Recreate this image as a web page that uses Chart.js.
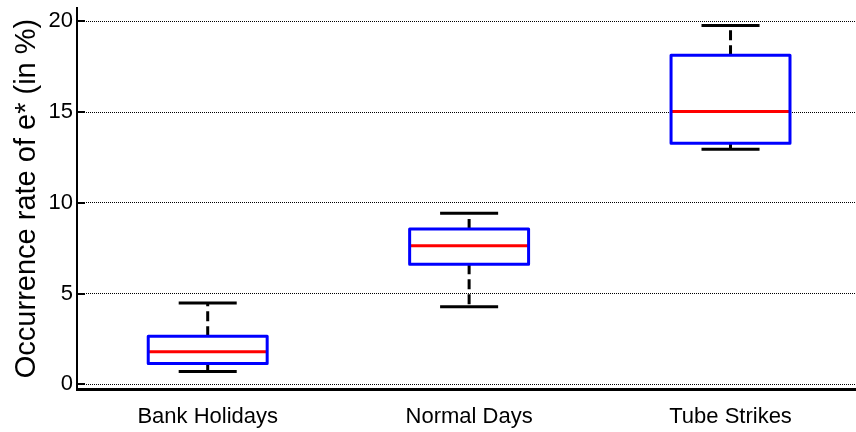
<!DOCTYPE html>
<html>
<head>
<meta charset="utf-8">
<script src="https://cdn.jsdelivr.net/npm/chart.js@4"></script>
<style>
  html, body { margin: 0; padding: 0; background: #fff; }
  #wrap { width: 856px; height: 432px; }
</style>
</head>
<body>
<div id="wrap"><canvas id="chart"></canvas></div>
<script>
// Five-number summaries per day type (occurrence rate, %)
const categories  = ['Bank Holidays', 'Normal Days', 'Tube Strikes'];
const whiskerLow  = [0.70, 4.28, 12.95];
const quartile1   = [1.14, 6.62, 13.29];
const medians     = [1.79, 7.64, 15.03];
const quartile3   = [2.65, 8.56, 18.14];
const whiskerHigh = [4.48, 9.43, 19.77];
const yTickValues = [0, 5, 10, 15, 20];

const FONT = '"Liberation Sans", Arial, Helvetica, sans-serif';
const BOX_HALF = 0.2275;   // half box width, in category units
const CAP_HALF = 0.111;    // half whisker-cap width, in category units

// Draws box, median, dashed whiskers and caps using the chart's scales
const boxPlot = {
  id: 'boxPlot',
  afterDatasetsDraw(chart) {
    const { ctx, scales: { x, y } } = chart;
    ctx.save();
    ctx.lineCap = 'butt';
    categories.forEach((cat, i) => {
      const pos = i + 1;
      const xc = x.getPixelForValue(pos);
      const xl = x.getPixelForValue(pos - BOX_HALF);
      const xr = x.getPixelForValue(pos + BOX_HALF);
      const cl = x.getPixelForValue(pos - CAP_HALF);
      const cr = x.getPixelForValue(pos + CAP_HALF);
      const yLo = y.getPixelForValue(whiskerLow[i]);
      const yQ1 = y.getPixelForValue(quartile1[i]);
      const yMd = y.getPixelForValue(medians[i]);
      const yQ3 = y.getPixelForValue(quartile3[i]);
      const yHi = y.getPixelForValue(whiskerHigh[i]);

      // dashed whiskers, running from the box edges outward
      ctx.strokeStyle = '#000';
      ctx.lineWidth = 3;
      ctx.setLineDash([10, 5]);
      ctx.beginPath();
      ctx.moveTo(xc, yQ3); ctx.lineTo(xc, yHi);
      ctx.stroke();
      ctx.beginPath();
      ctx.moveTo(xc, yQ1); ctx.lineTo(xc, yLo);
      ctx.stroke();

      // whisker caps
      ctx.setLineDash([]);
      ctx.beginPath();
      ctx.moveTo(cl, yHi); ctx.lineTo(cr, yHi);
      ctx.moveTo(cl, yLo); ctx.lineTo(cr, yLo);
      ctx.stroke();

      // median
      ctx.strokeStyle = '#ff0000';
      ctx.beginPath();
      ctx.moveTo(xl, yMd); ctx.lineTo(xr, yMd);
      ctx.stroke();

      // box
      ctx.strokeStyle = '#0000ff';
      ctx.lineJoin = 'round';
      ctx.strokeRect(xl, yQ3, xr - xl, yQ1 - yQ3);
    });
    ctx.restore();
  },
  afterDraw(chart) {
    // short inward tick marks on the value axis
    const { ctx, scales: { y }, chartArea } = chart;
    ctx.save();
    ctx.strokeStyle = '#000';
    ctx.lineWidth = 2;
    y.ticks.forEach(t => {
      const py = Math.round(y.getPixelForValue(t.value));
      ctx.beginPath();
      ctx.moveTo(chartArea.left, py);
      ctx.lineTo(chartArea.left + 8, py);
      ctx.stroke();
    });
    ctx.restore();
  }
};

function noEdgePadding(scale) {
  scale.paddingTop = 0;
  scale.paddingBottom = 0;
  scale.paddingLeft = 0;
  scale.paddingRight = 0;
}

new Chart(document.getElementById('chart'), {
  type: 'bar',
  data: { labels: [], datasets: [] },
  options: {
    responsive: true,
    maintainAspectRatio: false,
    animation: false,
    layout: { padding: { top: 8, right: 0, bottom: 0, left: 0 } },
    plugins: { legend: { display: false }, tooltip: { enabled: false } },
    scales: {
      x: {
        type: 'linear',
        offset: false,
        min: 0.5,
        max: 3.48,
        afterBuildTicks(scale) { scale.ticks = categories.map((c, i) => ({ value: i + 1 })); },
        afterFit(scale) { scale.height = 43; noEdgePadding(scale); },
        ticks: {
          callback: v => categories[v - 1],
          font: { family: FONT, size: 22 },
          color: '#000',
          padding: 15,
          maxRotation: 0,
          autoSkip: false
        },
        grid: { display: false, drawTicks: false },
        border: { display: true, color: '#000', width: 3 }
      },
      y: {
        type: 'linear',
        min: -0.26,
        max: 20.74,
        afterBuildTicks(scale) { scale.ticks = yTickValues.map(v => ({ value: v })); },
        afterFit(scale) { scale.width = 77; noEdgePadding(scale); },
        ticks: {
          font: { family: FONT, size: 22 },
          color: '#000',
          padding: 4
        },
        grid: { color: '#000', lineWidth: 1, drawTicks: false },
        border: { display: true, color: '#000', width: 2, dash: [1, 1] },
        title: {
          display: true,
          text: 'Occurrence rate of e* (in %)',
          font: { family: FONT, size: 29 },
          color: '#000',
          padding: { top: 10, bottom: 0 }
        }
      }
    }
  },
  plugins: [boxPlot]
});
</script>
</body>
</html>
